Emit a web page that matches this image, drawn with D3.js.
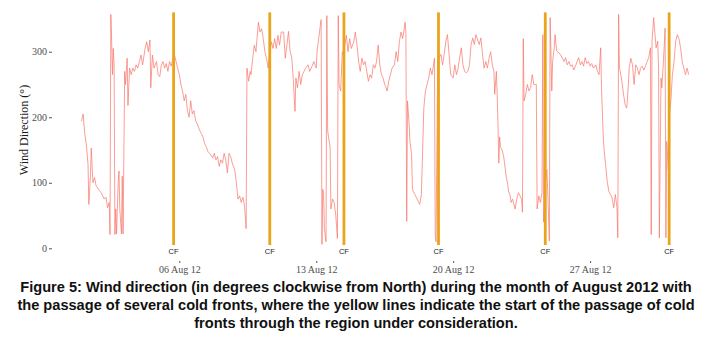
<!DOCTYPE html>
<html>
<head>
<meta charset="utf-8">
<script src="https://cdn.jsdelivr.net/npm/d3@7"></script>
<style>
  body { margin: 0; background: #fff; }
  svg { display: block; }
</style>
</head>
<body>
<script>
// hours since 01 Aug 2012 00:00
var obsHour = [0,2,4,6,8,9,11,12,14,16,18,20,22,24,26,28,30,32,34,35,36,37,38,39,40,41,42,43,45,46,47,49,50,51,
  53,54,56,57,59,61,63,65,67,69,71,73,75,78,80,82,84,85,87,89,92,94,96,98,100,102,104,106,108,110,112,114,116,
  118,120,122,124,126,128,130,132,134,136,138,140,142,145,147,149,151,153,155,157,159,161,163,165,167,169,171,
  173,175,177,179,181,183,185,188,190,192,194,196,198,200,202,203,205,207,208,210,212,214,217,219,221,223,225,
  227,229,231,233,235,237,239,241,243,245,
  248,250,252,254,256,258,260,261,262,263,265,267,269,271,273,275,278,280,283,285,288,289,291,293,294,295,296,
  297,298,300,301,302,303,305,306,308,310,312,314,315,316,318,320,321,323,325,327,329,331,334,336,338,340,342,
  344,346,348,350,352,354,356,358,360,362,364,366,368,370,372,374,375,377,379,381,384,386,388,390,392,394,396,
  397,398,399,400,402,403,405,406,407,409,411,413,415,417,420,422,424,426,428,430,432,433,434,435,437,439,441,
  443,445,447,449,451,453,456,458,460,462,464,466,468,470,472,474,476,478,480,482,484,486,488,490,492,494,
  496,498,500,502,504,506,507,509,510,511,512,513,514,516,518,519,521,523,524,526,527,529,532,534,536,538,540,
  541,542,543,545,547,549,551,553,555,557,558,559,561,563,565,566,567,569,571,572,574,575,577,578,580,581,583,
  586,588,590,592,594,596,598,600,602,604,606,608,610,612,614,616,618,620,622,624,626,628,631,633,635,637,638,
  640,641,643,645,647,649,651,653,655,657,658,659,660,661,663,665,667,669,671,672,674,676,678,680,682,684,686,
  688,690,692,694,696,698,699,700,702,703,705,707,708,709,711,712,714,716,717,718,720,721,723,725,727,729,731,
  733,735,737,739,741,743,745];

var windDir = [194,205,175,158,128,67,112,153,100,108,95,92,88,85,80,75,78,62,70,21,357,316,265,305,280,21,60,22,100,118,60,22,110,22,
  270,250,290,218,275,265,275,270,280,275,285,295,280,305,315,300,318,245,295,275,285,265,262,280,285,275,282,270,285,278,288,296,285,
  275,265,250,240,225,235,210,200,225,205,210,195,190,180,175,170,160,155,148,145,142,138,145,135,140,125,135,
  130,145,135,115,145,140,130,120,100,75,80,70,78,65,30,275,255,270,265,290,310,300,345,330,335,320,300,
  290,275,300,315,305,320,305,325,310,330,
  330,290,310,331,300,291,255,230,209,260,245,270,250,265,270,275,280,270,278,285,275,300,320,340,349,6,90,
  85,30,10,355,180,170,155,60,75,70,50,15,355,250,240,300,295,310,325,300,320,305,315,330,310,285,270,
  290,280,285,270,255,265,260,280,275,285,310,280,265,260,250,245,240,255,265,275,280,300,285,315,330,320,335,
  345,330,41,225,189,163,143,92,87,82,77,72,67,82,214,240,250,260,275,265,280,290,21,10,291,291,296,
  280,296,316,326,296,265,260,280,265,275,291,306,280,270,268,270,280,311,321,311,326,318,311,321,296,275,
  285,275,290,300,280,270,235,270,235,190,130,170,155,150,140,130,110,97,87,80,70,75,60,75,85,80,75,
  55,320,225,235,250,240,245,265,250,250,250,60,80,70,85,326,40,100,120,87,11,352,240,285,306,326,301,
  298,295,290,285,291,280,285,278,280,272,278,285,291,280,285,278,291,282,285,278,282,275,280,270,265,306,245,
  174,153,128,102,87,82,77,62,82,62,16,357,275,270,255,235,219,214,250,275,290,280,250,280,275,265,275,
  278,272,278,285,291,306,21,316,352,336,306,316,275,16,260,245,285,336,16,163,120,200,224,265,285,316,326,
  320,306,285,275,265,275,265];

// start of each cold-front passage
var frontTimes = ["2012-08-05T17:00", "2012-08-10T15:00", "2012-08-14T10:00",
  "2012-08-19T06:00", "2012-08-24T17:00", "2012-08-31T01:00"];

var dirTicks = [0, 100, 200, 300];
var dateTicks = ["2012-08-06", "2012-08-13", "2012-08-20", "2012-08-27"];

var captionLines = [
  "Figure 5: Wind direction (in degrees clockwise from North) during the month of August 2012 with",
  "the passage of several cold fronts, where the yellow lines indicate the start of the passage of cold",
  "fronts through the region under consideration."
];

var w = 709;
var h = 340;

var parseT = d3.timeParse("%Y-%m-%dT%H:%M");
var parseD = d3.timeParse("%Y-%m-%d");
var start = new Date(2012, 7, 1, 0);

var data = obsHour.map(function(hr, i) {
  return { t: d3.timeHour.offset(start, hr), v: windDir[i] };
});

var x = d3.scaleTime()
  .domain([start, new Date(2012, 8, 1, 0)])
  .range([81.5, 687.9]);

var y = d3.scaleLinear()
  .domain([0, 360])
  .range([248.3, 12.4]);

var svg = d3.select("body")
  .append("svg")
  .attr("width", w)
  .attr("height", h);

var line = d3.line()
  .x(function(d) { return x(d.t); })
  .y(function(d) { return y(d.v); });

svg.append("path")
  .datum(data)
  .attr("d", line)
  .attr("fill", "none")
  .attr("stroke", "#F8766D")
  .attr("stroke-width", 0.8)
  .attr("stroke-opacity", 0.9)
  .attr("stroke-linejoin", "round");

// cold front markers
var fronts = frontTimes.map(parseT);

svg.selectAll(".front")
  .data(fronts)
  .enter()
  .append("line")
  .attr("class", "front")
  .attr("x1", function(d) { return x(d); })
  .attr("x2", function(d) { return x(d); })
  .attr("y1", y(360))
  .attr("y2", y(5))
  .attr("stroke", "#E9A41A")
  .attr("stroke-width", 2.8);

svg.selectAll(".cf")
  .data(fronts)
  .enter()
  .append("text")
  .attr("class", "cf")
  .attr("x", function(d) { return x(d); })
  .attr("y", y(-6))
  .attr("text-anchor", "middle")
  .attr("dominant-baseline", "middle")
  .style("font-family", "Liberation Sans, Arial, sans-serif")
  .style("font-size", "7.5px")
  .style("fill", "#222")
  .text("CF");

// axes
var yAxis = d3.axisLeft(y)
  .tickValues(dirTicks)
  .tickSize(3)
  .tickPadding(2);

var gy = svg.append("g")
  .attr("transform", "translate(52,0)")
  .call(yAxis);

var xAxis = d3.axisBottom(x)
  .tickValues(dateTicks.map(parseD))
  .tickFormat(d3.timeFormat("%d %b %y"))
  .tickSize(2)
  .tickPadding(3);

var gx = svg.append("g")
  .attr("transform", "translate(0,261)")
  .call(xAxis);

[gx, gy].forEach(function(g) {
  g.select(".domain").remove();
  g.selectAll(".tick line").attr("stroke", "#555");
  g.selectAll("text")
    .style("font-family", "Liberation Serif, Times New Roman, serif")
    .style("font-size", "10px")
    .style("fill", "#4d4d4d");
});

svg.append("text")
  .attr("transform", "translate(25,130) rotate(-90)")
  .attr("text-anchor", "middle")
  .attr("dominant-baseline", "middle")
  .style("font-family", "Liberation Serif, Times New Roman, serif")
  .style("font-size", "12px")
  .style("fill", "#1a1a1a")
  .text("Wind Direction (°)");

// caption
svg.selectAll(".caption")
  .data(captionLines)
  .enter()
  .append("text")
  .attr("class", "caption")
  .attr("x", 356)
  .attr("y", function(d, i) { return 292 + i * 18; })
  .attr("text-anchor", "middle")
  .style("font-family", "Liberation Sans, Arial, sans-serif")
  .style("font-weight", "bold")
  .style("font-size", "14.6px")
  .style("fill", "#111")
  .text(function(d) { return d; });
</script>
</body>
</html>
